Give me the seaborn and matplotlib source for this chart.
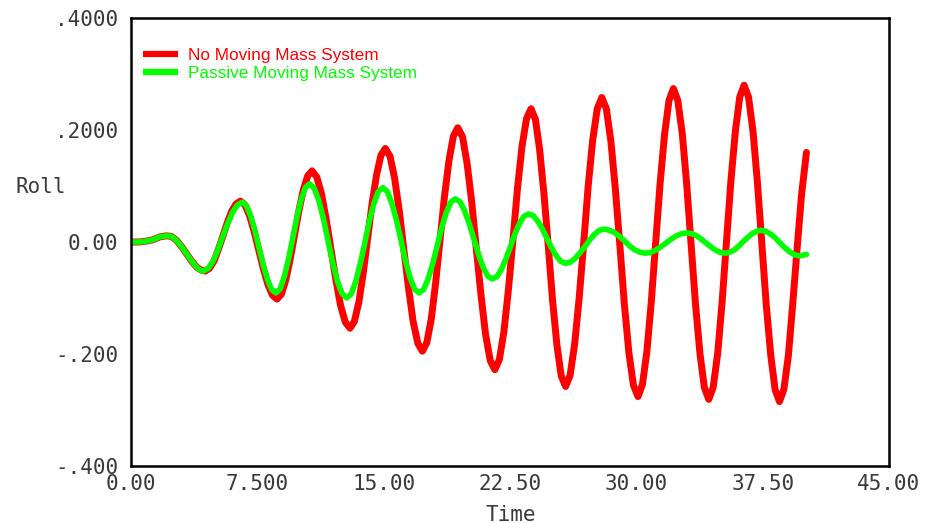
import matplotlib
matplotlib.use("Agg")
import matplotlib.pyplot as plt
import seaborn as sns

# roll response (one row per half swing)
red_t = [0.0, 0.5, 1.0, 1.3, 1.7, 2.1, 2.4, 2.7, 3.0, 3.3, 3.6, 3.9, 4.15, 4.4,
         4.66, 4.93, 5.19, 5.45, 5.71, 5.98, 6.24, 6.5,
         6.77, 7.04, 7.31, 7.59, 7.86, 8.13, 8.40, 8.67,
         8.93, 9.19, 9.45, 9.71, 9.97, 10.23, 10.49, 10.75,
         11.03, 11.31, 11.59, 11.88, 12.16, 12.44, 12.72, 13.0,
         13.26, 13.53, 13.79, 14.05, 14.31, 14.58, 14.84, 15.1,
         15.38, 15.65, 15.93, 16.2, 16.48, 16.75, 17.03, 17.3,
         17.56, 17.83, 18.09, 18.35, 18.61, 18.88, 19.14, 19.4,
         19.68, 19.95, 20.23, 20.5, 20.78, 21.05, 21.33, 21.6,
         21.87, 22.14, 22.41, 22.68, 22.94, 23.21, 23.48, 23.75,
         24.01, 24.26, 24.52, 24.78, 25.03, 25.29, 25.54, 25.8,
         26.07, 26.34, 26.61, 26.88, 27.14, 27.41, 27.68, 27.95,
         28.22, 28.49, 28.76, 29.03, 29.29, 29.56, 29.83, 30.1,
         30.36, 30.63, 30.89, 31.15, 31.41, 31.68, 31.94, 32.2,
         32.46, 32.73, 32.99, 33.25, 33.51, 33.78, 34.04, 34.3,
         34.56, 34.83, 35.09, 35.35, 35.61, 35.88, 36.14, 36.4,
         36.66, 36.93, 37.19, 37.45, 37.71, 37.98, 38.24, 38.5,
         38.76, 39.03, 39.29, 39.55, 39.81, 40.1]
red_v = [0.0, 0.0, 0.002, 0.004, 0.009, 0.011, 0.010, 0.003, -0.008, -0.021, -0.034, -0.045, -0.050, -0.052,
         -0.047, -0.034, -0.013, 0.010, 0.034, 0.055, 0.068, 0.073,
         0.066, 0.047, 0.019, -0.015, -0.048, -0.076, -0.095, -0.102,
         -0.093, -0.068, -0.031, 0.013, 0.056, 0.093, 0.118, 0.127,
         0.116, 0.086, 0.040, -0.014, -0.067, -0.113, -0.143, -0.154,
         -0.142, -0.107, -0.055, 0.007, 0.068, 0.120, 0.155, 0.167,
         0.153, 0.114, 0.055, -0.014, -0.083, -0.142, -0.181, -0.195,
         -0.180, -0.137, -0.072, 0.005, 0.081, 0.146, 0.189, 0.204,
         0.188, 0.141, 0.071, -0.012, -0.095, -0.165, -0.212, -0.228,
         -0.210, -0.160, -0.084, 0.005, 0.094, 0.170, 0.220, 0.238,
         0.219, 0.165, 0.085, -0.010, -0.105, -0.185, -0.239, -0.258,
         -0.238, -0.182, -0.099, 0.0, 0.099, 0.182, 0.238, 0.258,
         0.238, 0.180, 0.093, -0.009, -0.111, -0.198, -0.256, -0.276,
         -0.255, -0.195, -0.106, -0.001, 0.104, 0.193, 0.253, 0.274,
         0.253, 0.193, 0.103, -0.004, -0.110, -0.200, -0.260, -0.281,
         -0.260, -0.199, -0.108, 0.0, 0.107, 0.198, 0.259, 0.280,
         0.259, 0.197, 0.106, -0.003, -0.111, -0.202, -0.264, -0.285,
         -0.263, -0.202, -0.109, -0.010, 0.085, 0.160]

green_t = [0.0, 0.5, 1.0, 1.3, 1.7, 2.1, 2.4, 2.7, 3.0, 3.3, 3.6, 3.9, 4.1, 4.3,
           4.59, 4.88, 5.16, 5.45, 5.74, 6.03, 6.31, 6.6,
           6.85, 7.1, 7.35, 7.6, 7.85, 8.1, 8.35, 8.6,
           8.85, 9.1, 9.35, 9.6, 9.85, 10.1, 10.35, 10.6,
           10.88, 11.15, 11.43, 11.7, 11.98, 12.25, 12.53, 12.8,
           13.07, 13.34, 13.61, 13.88, 14.14, 14.41, 14.68, 14.95,
           15.22, 15.49, 15.76, 16.03, 16.29, 16.56, 16.83, 17.1,
           17.37, 17.64, 17.91, 18.18, 18.44, 18.71, 18.98, 19.25,
           19.53, 19.8, 20.08, 20.35, 20.63, 20.9, 21.18, 21.45,
           21.72, 21.99, 22.26, 22.53, 22.79, 23.06, 23.33, 23.6,
           23.88, 24.15, 24.43, 24.7, 24.98, 25.25, 25.53, 25.8,
           26.09, 26.38, 26.66, 26.95, 27.24, 27.53, 27.81, 28.1,
           28.4, 28.7, 29.0, 29.3, 29.6, 29.9, 30.2, 30.5,
           30.81, 31.13, 31.44, 31.75, 32.06, 32.38, 32.69, 33.0,
           33.29, 33.58, 33.86, 34.15, 34.44, 34.73, 35.01, 35.3,
           35.56, 35.83, 36.09, 36.35, 36.61, 36.88, 37.14, 37.4,
           37.69, 37.98, 38.26, 38.55, 38.84, 39.13, 39.41, 39.7, 40.1]
green_v = [0.0, 0.0, 0.002, 0.004, 0.009, 0.011, 0.010, 0.003, -0.008, -0.021, -0.034, -0.045, -0.050, -0.052,
           -0.047, -0.034, -0.014, 0.010, 0.033, 0.053, 0.066, 0.071,
           0.065, 0.047, 0.021, -0.010, -0.041, -0.067, -0.085, -0.091,
           -0.084, -0.062, -0.031, 0.007, 0.044, 0.075, 0.097, 0.104,
           0.096, 0.074, 0.041, 0.002, -0.037, -0.070, -0.092, -0.100,
           -0.093, -0.071, -0.039, -0.002, 0.036, 0.068, 0.090, 0.097,
           0.090, 0.069, 0.039, 0.003, -0.033, -0.063, -0.084, -0.091,
           -0.085, -0.066, -0.039, -0.007, 0.025, 0.052, 0.071, 0.077,
           0.072, 0.056, 0.033, 0.006, -0.022, -0.045, -0.061, -0.066,
           -0.062, -0.049, -0.030, -0.008, 0.014, 0.033, 0.046, 0.050,
           0.047, 0.037, 0.023, 0.006, -0.011, -0.025, -0.035, -0.038,
           -0.036, -0.029, -0.019, -0.008, 0.004, 0.014, 0.021, 0.023,
           0.021, 0.017, 0.010, 0.002, -0.007, -0.014, -0.018, -0.020,
           -0.019, -0.015, -0.009, -0.002, 0.005, 0.011, 0.015, 0.016,
           0.015, 0.011, 0.005, -0.002, -0.009, -0.015, -0.019, -0.020,
           -0.018, -0.014, -0.007, 0.001, 0.008, 0.015, 0.019, 0.021,
           0.019, 0.014, 0.007, -0.002, -0.011, -0.018, -0.023, -0.025, -0.022]

series_names = ["No Moving Mass System", "Passive Moving Mass System"]
x_ticks = [0, 7.5, 15, 22.5, 30, 37.5, 45]
x_ticklabels = ["0.00", "7.500", "15.00", "22.50", "30.00", "37.50", "45.00"]
y_ticks = [0.4, 0.2, 0.0, -0.2, -0.4]
y_ticklabels = [".4000", ".2000", "0.00", "-.200", "-.400"]

sns.set_style("white")
mono = "DejaVu Sans Mono"
txt_col = "#3a3a3a"

fig = plt.figure(figsize=(9.27, 5.23), dpi=100)
ax = fig.add_axes([0.1413, 0.1090, 0.8177, 0.8566])

sns.lineplot(x=red_t, y=red_v, ax=ax, color="#ff0000", linewidth=5,
             label=series_names[0], sort=False, estimator=None)
sns.lineplot(x=green_t, y=green_v, ax=ax, color="#00ff00", linewidth=4,
             label=series_names[1], sort=False, estimator=None)

ax.set_xlim(0, 45)
ax.set_ylim(-0.4, 0.4)
ax.set_xticks(x_ticks)
ax.set_xticklabels(x_ticklabels, fontfamily=mono, fontsize=15, color=txt_col)
ax.set_yticks(y_ticks)
ax.set_yticklabels(y_ticklabels, fontfamily=mono, fontsize=15, color=txt_col)
ax.tick_params(axis="both", direction="in", length=4, width=1.2, color="black")
ax.tick_params(axis="x", pad=6)
ax.tick_params(axis="y", pad=9)

for s in ax.spines.values():
    s.set_color("black")
    s.set_linewidth(1.8)

ax.set_xlabel("Time", fontfamily=mono, fontsize=15, color=txt_col, va="center")
ax.xaxis.set_label_coords(0.501, -0.109)
ax.set_ylabel("Roll", fontfamily=mono, fontsize=15, color=txt_col,
              rotation=0, ha="center", va="center")
ax.yaxis.set_label_coords(-0.119, 0.623)

leg = ax.legend(loc="upper left", bbox_to_anchor=(0.016, 0.933), frameon=False,
                borderaxespad=0, borderpad=0, handlelength=2.05, handletextpad=0.58,
                labelspacing=0.16, prop={"family": "Liberation Sans", "size": 12.4},
                labelcolor="linecolor")
for line in leg.get_lines():
    line.set_linewidth(4.5)
    line.set_solid_capstyle("butt")

fig.savefig("out.png", dpi=100)
plt.close()
